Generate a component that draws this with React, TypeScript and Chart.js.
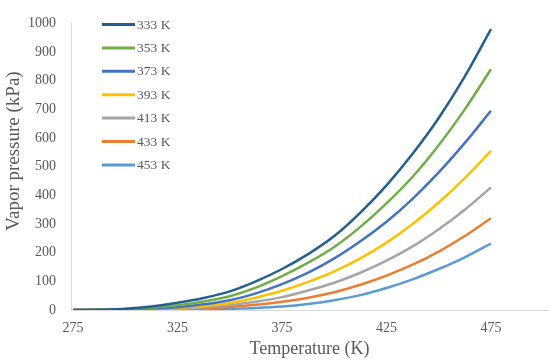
import React, { useEffect, useRef } from "react";
import { Chart, registerables } from "chart.js";

Chart.register(...registerables);

const temperatures = [275, 287.5, 300, 312.5, 325, 337.5, 350, 362.5, 375, 387.5, 400, 412.5, 425, 437.5, 450, 462.5, 475];
const seriesLabels = ["333 K", "353 K", "373 K", "393 K", "413 K", "433 K", "453 K"];
const s333 = [0, 1, 4, 12, 25, 42, 65, 100, 143, 195, 258, 340, 435, 545, 670, 815, 980];
const s353 = [0, 0.5, 3, 8, 17, 30, 48, 78, 118, 165, 220, 290, 372, 465, 575, 700, 840];
const s373 = [0, 0, 2, 5, 10, 20, 34, 58, 90, 130, 180, 240, 308, 388, 480, 583, 695];
const s393 = [0, 0, 1, 3, 7, 14, 24, 43, 67, 98, 135, 180, 235, 300, 375, 460, 555];
const s413 = [0, 0, 1, 2, 4, 9, 17, 29, 45, 68, 95, 130, 172, 222, 282, 350, 428];
const s433 = [0, 0, 0, 1, 2, 5, 11, 18, 29, 43, 62, 88, 120, 158, 204, 258, 320];
const s453 = [0, 0, 0, 0, 1, 2, 4, 7, 12, 21, 34, 52, 77, 107, 143, 184, 232];
const xTicks = [275, 325, 375, 425, 475];
const seriesColors = ["#255E91", "#70AD47", "#4472C4", "#FFC000", "#A5A5A5", "#ED7D31", "#5B9BD5"];
const yTitle = "Vapor pressure (kPa)";

const FONT = "'Liberation Serif', 'DejaVu Serif', serif";

const legendPlugin = {
  id: "insideLegend",
  afterDraw(chart: any) {
    const ctx = chart.ctx;
    ctx.save();
    chart.data.datasets.forEach((ds: any, i: number) => {
      const y = 24.5 + i * 23.4;
      ctx.strokeStyle = ds.borderColor;
      ctx.lineWidth = 3;
      ctx.beginPath();
      ctx.moveTo(102, y);
      ctx.lineTo(135, y);
      ctx.stroke();
      ctx.fillStyle = "#595959";
      ctx.font = `13.5px ${FONT}`;
      ctx.textBaseline = "middle";
      ctx.textAlign = "left";
      ctx.fillText(ds.label, 137, y + 0.5);
    });
    // y-axis title
    ctx.translate(14, 151);
    ctx.rotate(-Math.PI / 2);
    ctx.fillStyle = "#595959";
    ctx.font = `19px ${FONT}`;
    ctx.textAlign = "center";
    ctx.textBaseline = "middle";
    ctx.fillText(yTitle, 0, 0);
    ctx.restore();
  },
};

export default function App() {
  const ref = useRef<HTMLCanvasElement | null>(null);
  useEffect(() => {
    document.body.style.margin = "0";
    const all = [s333, s353, s373, s393, s413, s433, s453];
    const datasets = all.map((arr, i) => ({
      label: seriesLabels[i],
      data: temperatures.map((t, j) => ({ x: t, y: arr[j] })),
      borderColor: seriesColors[i],
      backgroundColor: seriesColors[i],
      borderWidth: 2.5,
      pointRadius: 0,
      cubicInterpolationMode: "monotone" as const,
      fill: false,
    }));
    const chart = new Chart(ref.current!, {
      type: "line",
      data: { datasets },
      options: {
        animation: false,
        responsive: false,
        layout: { padding: { top: 10, right: 2, left: 0, bottom: 0 } },
        plugins: { legend: { display: false }, tooltip: { enabled: false } },
        scales: {
          x: {
            type: "linear",
            min: 274,
            max: 502.3,
            afterBuildTicks: (s: any) => {
              s.ticks = xTicks.map((v) => ({ value: v }));
            },
            afterFit: (s: any) => {
              s.height = 52;
            },
            grid: { display: false, drawTicks: false },
            border: { display: true, color: "#D9D9D9", width: 1 },
            ticks: {
              color: "#595959",
              font: { family: FONT, size: 14 },
              padding: 10,
              maxRotation: 0,
              autoSkip: false,
              callback: (v: any) => String(v),
            },
            title: {
              display: true,
              text: "Temperature (K)",
              color: "#595959",
              font: { family: FONT, size: 18 },
              padding: { top: 0, bottom: 2 },
            },
          },
          y: {
            min: 0,
            max: 1000,
            afterFit: (s: any) => {
              s.width = 71;
            },
            grid: { display: false, drawTicks: false },
            border: { display: true, color: "#D9D9D9", width: 1 },
            ticks: {
              stepSize: 100,
              color: "#595959",
              font: { family: FONT, size: 14 },
              padding: 15,
              callback: (v: any) => String(v),
            },
            title: { display: false },
          },
        },
      },
      plugins: [legendPlugin],
    });
    return () => chart.destroy();
  }, []);
  return <canvas ref={ref} width={550} height={362} style={{ display: "block" }} />;
}
